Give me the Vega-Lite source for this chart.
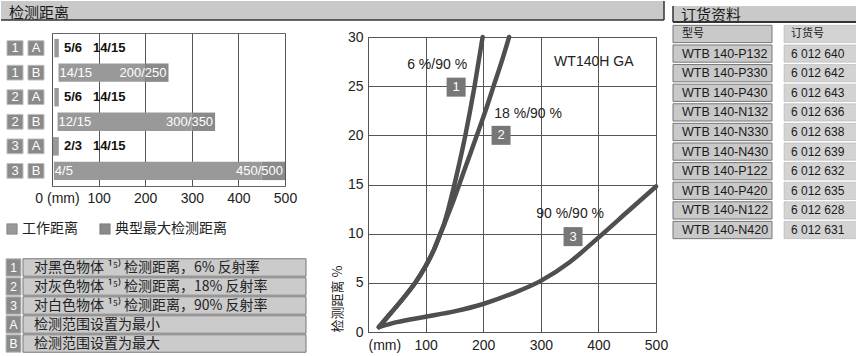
{
  "$schema": "https://vega.github.io/schema/vega-lite/v6.json",
  "padding": 0,
  "background": "white",
  "bounds": "flush",
  "spacing": 672,
  "config": {
    "view": {"stroke": null},
    "font": "Liberation Sans",
    "text": {"font": "Liberation Sans"},
    "axis": {"labelFont": "Liberation Sans", "titleFont": "Noto Sans CJK SC"}
  },
  "datasets": {
    "bars": [
      {"row": "1A", "kind": "工作距离", "lo": 5, "hi": 14},
      {"row": "1A", "kind": "典型最大检测距离", "lo": 14, "hi": 15},
      {"row": "1B", "kind": "工作距离", "lo": 14, "hi": 200},
      {"row": "1B", "kind": "典型最大检测距离", "lo": 200, "hi": 250},
      {"row": "2A", "kind": "工作距离", "lo": 5, "hi": 14},
      {"row": "2A", "kind": "典型最大检测距离", "lo": 14, "hi": 15},
      {"row": "2B", "kind": "工作距离", "lo": 12, "hi": 300},
      {"row": "2B", "kind": "典型最大检测距离", "lo": 300, "hi": 350},
      {"row": "3A", "kind": "工作距离", "lo": 2, "hi": 14},
      {"row": "3A", "kind": "典型最大检测距离", "lo": 14, "hi": 15},
      {"row": "3B", "kind": "工作距离", "lo": 4, "hi": 450},
      {"row": "3B", "kind": "典型最大检测距离", "lo": 450, "hi": 500}
    ],
    "barlabels": [
      {"row": "1A", "x": 15, "t": "5/6\u00a0\u00a0\u00a014/15", "k": "out"},
      {"row": "1B", "x": 14, "t": "14/15", "k": "start"},
      {"row": "1B", "x": 250, "t": "200/250", "k": "end"},
      {"row": "2A", "x": 15, "t": "5/6\u00a0\u00a0\u00a014/15", "k": "out"},
      {"row": "2B", "x": 12, "t": "12/15", "k": "start"},
      {"row": "2B", "x": 350, "t": "300/350", "k": "end"},
      {"row": "3A", "x": 15, "t": "2/3\u00a0\u00a0\u00a014/15", "k": "out"},
      {"row": "3B", "x": 4, "t": "4/5", "k": "start"},
      {"row": "3B", "x": 500, "t": "450/500", "k": "end"}
    ],
    "boxes": [
      {"row": "1A", "col": "n", "t": "1"}, {"row": "1A", "col": "l", "t": "A"},
      {"row": "1B", "col": "n", "t": "1"}, {"row": "1B", "col": "l", "t": "B"},
      {"row": "2A", "col": "n", "t": "2"}, {"row": "2A", "col": "l", "t": "A"},
      {"row": "2B", "col": "n", "t": "2"}, {"row": "2B", "col": "l", "t": "B"},
      {"row": "3A", "col": "n", "t": "3"}, {"row": "3A", "col": "l", "t": "A"},
      {"row": "3B", "col": "n", "t": "3"}, {"row": "3B", "col": "l", "t": "B"}
    ],
    "key": [
      {"k": "1", "t": "对黑色物体 ¹⁵⁾ 检测距离，6% 反射率"},
      {"k": "2", "t": "对灰色物体 ¹⁵⁾ 检测距离，18% 反射率"},
      {"k": "3", "t": "对白色物体 ¹⁵⁾ 检测距离，90% 反射率"},
      {"k": "A", "t": "检测范围设置为最小"},
      {"k": "B", "t": "检测范围设置为最大"}
    ],
    "curves": [
      {"c": "1", "mm": 19, "pct": 0.5}, {"c": "1", "mm": 40, "pct": 1.95}, {"c": "1", "mm": 60, "pct": 3.35},
      {"c": "1", "mm": 82, "pct": 5.0}, {"c": "1", "mm": 100, "pct": 6.7}, {"c": "1", "mm": 114, "pct": 8.3},
      {"c": "1", "mm": 125, "pct": 9.9}, {"c": "1", "mm": 132, "pct": 11.0}, {"c": "1", "mm": 139, "pct": 12.4},
      {"c": "1", "mm": 148, "pct": 14.5}, {"c": "1", "mm": 158, "pct": 17.0}, {"c": "1", "mm": 169, "pct": 20},
      {"c": "1", "mm": 185, "pct": 25}, {"c": "1", "mm": 199, "pct": 30},
      {"c": "2", "mm": 19, "pct": 0.5}, {"c": "2", "mm": 40, "pct": 1.95}, {"c": "2", "mm": 60, "pct": 3.35},
      {"c": "2", "mm": 82, "pct": 5.0}, {"c": "2", "mm": 100, "pct": 6.7}, {"c": "2", "mm": 114, "pct": 8.3},
      {"c": "2", "mm": 125, "pct": 9.9}, {"c": "2", "mm": 132, "pct": 10.9}, {"c": "2", "mm": 140, "pct": 12.1},
      {"c": "2", "mm": 148, "pct": 13.3}, {"c": "2", "mm": 156, "pct": 14.6}, {"c": "2", "mm": 170, "pct": 16.9},
      {"c": "2", "mm": 189, "pct": 20}, {"c": "2", "mm": 204, "pct": 22.5}, {"c": "2", "mm": 218, "pct": 25},
      {"c": "2", "mm": 232, "pct": 27.5}, {"c": "2", "mm": 245, "pct": 30},
      {"c": "3", "mm": 19, "pct": 0.5}, {"c": "3", "mm": 50, "pct": 1.0}, {"c": "3", "mm": 100, "pct": 1.55},
      {"c": "3", "mm": 150, "pct": 2.1}, {"c": "3", "mm": 200, "pct": 2.85}, {"c": "3", "mm": 250, "pct": 3.9},
      {"c": "3", "mm": 300, "pct": 5.2}, {"c": "3", "mm": 350, "pct": 7.1}, {"c": "3", "mm": 400, "pct": 9.6},
      {"c": "3", "mm": 450, "pct": 12.2}, {"c": "3", "mm": 500, "pct": 14.8}
    ],
    "annot": [
      {"x": 120, "y": 27.2, "t": "6 %/90 %"},
      {"x": 278, "y": 22.2, "t": "18 %/90 %"},
      {"x": 351, "y": 12.0, "t": "90 %/90 %"},
      {"x": 392, "y": 27.5, "t": "WT140H GA"}
    ],
    "numbox": [
      {"x": 153, "y": 24.9, "t": "1"},
      {"x": 231, "y": 20.0, "t": "2"},
      {"x": 356, "y": 9.7, "t": "3"}
    ],
    "table": [
      {"r": 0, "model": "型号", "order": "订货号"},
      {"r": 1, "model": "WTB 140-P132", "order": "6 012 640"},
      {"r": 2, "model": "WTB 140-P330", "order": "6 012 642"},
      {"r": 3, "model": "WTB 140-P430", "order": "6 012 643"},
      {"r": 4, "model": "WTB 140-N132", "order": "6 012 636"},
      {"r": 5, "model": "WTB 140-N330", "order": "6 012 638"},
      {"r": 6, "model": "WTB 140-N430", "order": "6 012 639"},
      {"r": 7, "model": "WTB 140-P122", "order": "6 012 632"},
      {"r": 8, "model": "WTB 140-P420", "order": "6 012 635"},
      {"r": 9, "model": "WTB 140-N122", "order": "6 012 628"},
      {"r": 10, "model": "WTB 140-N420", "order": "6 012 631"}
    ]
  },
  "hconcat": [
    {
      "bounds": "flush",
      "spacing": 13,
      "vconcat": [
        {
          "width": 663, "height": 19,
          "view": {"fill": "#c9c9c9", "stroke": null},
          "data": {"values": [{"t": "检测距离"}]},
          "layer": [
            {"mark": {"type": "text", "align": "left", "baseline": "middle", "dx": 8, "dy": 2, "fontSize": 15, "font": "Noto Sans CJK SC", "color": "#1a1a1a"},
             "encoding": {
               "text": {"field": "t"},
               "x": {"datum": 0, "type": "quantitative", "scale": {"domain": [0, 1]}, "axis": null},
               "y": {"datum": 0.5, "type": "quantitative", "scale": {"domain": [0, 1]}, "axis": null}
             }},
            {"mark": {"type": "rule", "color": "#333", "strokeWidth": 1.5},
             "encoding": {"y": {"datum": 0, "type": "quantitative", "scale": {"domain": [0, 1]}, "axis": null}}},
            {"mark": {"type": "rule", "color": "#333", "strokeWidth": 1.5},
             "encoding": {"x": {"datum": 1, "type": "quantitative", "scale": {"domain": [0, 1]}, "axis": null}}}
          ]
        },
        {
          "bounds": "flush",
          "spacing": 367,
          "hconcat": [
            {
              "bounds": "flush",
              "spacing": 225,
              "vconcat": [
                {
                  "bounds": "flush",
                  "spacing": 2,
                  "hconcat": [
                    {
                      "width": 49, "height": 153,
                      "data": {"name": "boxes"},
                      "encoding": {
                        "x": {"field": "col", "type": "nominal", "scale": {"domain": ["n", "l"], "paddingInner": 0.238, "paddingOuter": 0.286}, "axis": null},
                        "y": {"field": "row", "type": "nominal", "scale": {"domain": ["1A", "1B", "2A", "2B", "3A", "3B"], "paddingInner": 0.4, "paddingOuter": 0.315}, "axis": null}
                      },
                      "layer": [
                        {"mark": {"type": "rect", "fill": "#8a8a8a", "stroke": "#bdbdbd", "strokeWidth": 1}},
                        {"mark": {"type": "text", "color": "white", "fontSize": 13}, "encoding": {"text": {"field": "t"}}}
                      ]
                    },
                    {
                      "width": 233, "height": 153,
                      "view": {"stroke": "#666", "strokeWidth": 1},
                      "encoding": {
                        "y": {"field": "row", "type": "nominal", "scale": {"domain": ["1A", "1B", "2A", "2B", "3A", "3B"], "paddingInner": 0.25, "paddingOuter": 0.24}, "axis": null}
                      },
                      "layer": [
                        {
                          "data": {"name": "bars"},
                          "mark": {"type": "rect"},
                          "encoding": {
                            "x": {"field": "lo", "type": "quantitative", "scale": {"domain": [0, 500], "nice": false},
                                  "axis": {"values": [0, 100, 200, 300, 400, 500], "grid": true, "gridColor": "#555", "gridWidth": 1, "ticks": false, "domain": false,
                                           "labelExpr": "datum.value == 0 ? '0 (mm)' : datum.label",
                                           "labelOffset": {"condition": {"test": "datum.value == 0", "value": 5}, "value": 0},
                                           "labelFontSize": 14, "labelColor": "#222", "labelPadding": 5, "labelFlush": false, "title": null}},
                            "x2": {"field": "hi"},
                            "color": {"field": "kind", "type": "nominal",
                                      "scale": {"domain": ["工作距离", "典型最大检测距离"], "range": ["#999999", "#8a8a8a"]},
                                      "legend": {"orient": "none", "legendX": 4, "legendY": 221, "direction": "horizontal", "title": null,
                                                 "symbolType": "square", "symbolSize": 110, "symbolStrokeColor": "#666", "symbolStrokeWidth": 0.5,
                                                 "labelFont": "Noto Sans CJK SC", "labelFontSize": 14, "labelColor": "#222", "labelOffset": 3,
                                                 "columnPadding": 20, "padding": 0}}
                          }
                        },
                        {
                          "data": {"name": "barlabels"},
                          "transform": [{"filter": "datum.k == 'out'"}],
                          "mark": {"type": "text", "align": "left", "dx": 5, "fontSize": 13, "fontWeight": "bold", "color": "#111"},
                          "encoding": {"x": {"field": "x", "type": "quantitative"}, "text": {"field": "t"}}
                        },
                        {
                          "data": {"name": "barlabels"},
                          "transform": [{"filter": "datum.k == 'start'"}],
                          "mark": {"type": "text", "align": "left", "dx": 1, "fontSize": 13, "color": "white"},
                          "encoding": {"x": {"field": "x", "type": "quantitative"}, "text": {"field": "t"}}
                        },
                        {
                          "data": {"name": "barlabels"},
                          "transform": [{"filter": "datum.k == 'end'"}],
                          "mark": {"type": "text", "align": "right", "dx": -2, "fontSize": 13, "color": "white"},
                          "encoding": {"x": {"field": "x", "type": "quantitative"}, "text": {"field": "t"}}
                        }
                      ]
                    }
                  ]
                },
                {
                  "bounds": "flush",
                  "spacing": 2,
                  "hconcat": [
                    {
                      "width": 20, "height": 95,
                      "data": {"name": "key"},
                      "encoding": {
                        "y": {"field": "k", "type": "nominal", "sort": null, "scale": {"paddingInner": 0.08, "paddingOuter": 0.04}, "axis": null},
                        "x": {"datum": "k", "type": "nominal", "scale": {"domain": ["k"], "paddingInner": 0, "paddingOuter": 0.1667, "align": 1}, "axis": null}
                      },
                      "layer": [
                        {"mark": {"type": "rect", "fill": "#8a8a8a", "stroke": "#bdbdbd", "strokeWidth": 1}},
                        {"mark": {"type": "text", "color": "white", "fontSize": 12}, "encoding": {"text": {"field": "k"}}}
                      ]
                    },
                    {
                      "width": 283, "height": 95,
                      "data": {"name": "key"},
                      "encoding": {
                        "y": {"field": "k", "type": "nominal", "sort": null, "scale": {"paddingInner": 0.08, "paddingOuter": 0.04}, "axis": null}
                      },
                      "layer": [
                        {"mark": {"type": "rect", "fill": "#cbcbcb", "stroke": "#777", "strokeWidth": 1},
                         "encoding": {
                           "x": {"datum": 0, "type": "quantitative", "scale": {"domain": [0, 1]}, "axis": null},
                           "x2": {"datum": 1}
                         }},
                        {"mark": {"type": "text", "align": "left", "dx": 11, "fontSize": 14, "font": "Noto Sans CJK SC", "color": "#222"},
                         "encoding": {
                           "x": {"datum": 0, "type": "quantitative", "scale": {"domain": [0, 1]}, "axis": null},
                           "text": {"field": "t"}
                         }}
                      ]
                    }
                  ]
                }
              ]
            },
            {
              "bounds": "flush",
              "spacing": 3,
              "vconcat": [
                {"width": 288, "height": 1, "data": {"values": [{}]}, "mark": {"type": "point", "opacity": 0}, "encoding": {}},
                {
                  "width": 288, "height": 295,
                  "view": {"stroke": "#555", "strokeWidth": 1},
                  "layer": [
                    {
                      "data": {"name": "curves"},
                      "mark": {"type": "line", "strokeWidth": 4.5, "color": "#4f4f4f", "interpolate": "monotone", "strokeCap": "round"},
                      "encoding": {
                        "x": {"field": "mm", "type": "quantitative", "scale": {"domain": [0, 500], "nice": false},
                              "axis": {"values": [0, 50, 100, 150, 200, 250, 300, 350, 400, 450, 500], "grid": true, "gridColor": "#555", "gridWidth": 1,
                                       "ticks": false, "domain": false,
                                       "labelExpr": "datum.value == 0 ? '(mm)' : (datum.value % 100 == 0 ? datum.label : '')",
                                       "labelAlign": {"condition": {"test": "datum.value == 0", "value": "left"}, "value": "center"},
                                       "labelFontSize": 14, "labelColor": "#222", "labelPadding": 6, "labelFlush": false, "labelOverlap": false, "title": null}},
                        "y": {"field": "pct", "type": "quantitative", "scale": {"domain": [0, 30], "nice": false},
                              "axis": {"values": [0, 5, 10, 15, 20, 25, 30], "grid": true, "gridColor": "#555", "gridWidth": 1,
                                       "ticks": false, "domain": false, "labelFontSize": 14, "labelColor": "#222", "labelPadding": 5, "labelFlush": false,
                                       "title": "检测距离 %", "titleFontSize": 13, "titleFontWeight": "normal", "titleColor": "#222",
                                       "titleAnchor": "start", "titlePadding": 3}},
                        "detail": {"field": "c"}
                      }
                    },
                    {
                      "data": {"name": "annot"},
                      "mark": {"type": "text", "fontSize": 14, "color": "#222"},
                      "encoding": {"x": {"field": "x", "type": "quantitative"}, "y": {"field": "y", "type": "quantitative"}, "text": {"field": "t"}}
                    },
                    {
                      "data": {"name": "numbox"},
                      "mark": {"type": "point", "shape": "square", "size": 361, "filled": true, "color": "#777777", "opacity": 1},
                      "encoding": {"x": {"field": "x", "type": "quantitative"}, "y": {"field": "y", "type": "quantitative"}}
                    },
                    {
                      "data": {"name": "numbox"},
                      "mark": {"type": "text", "fontSize": 13, "color": "white"},
                      "encoding": {"x": {"field": "x", "type": "quantitative"}, "y": {"field": "y", "type": "quantitative"}, "text": {"field": "t"}}
                    }
                  ]
                }
              ]
            }
          ]
        }
      ]
    },
    {
      "bounds": "flush",
      "spacing": 1,
      "vconcat": [
        {"width": 1, "height": 4, "data": {"values": [{}]}, "mark": {"type": "point", "opacity": 0}, "encoding": {}},
        {
          "width": 184, "height": 16,
          "view": {"fill": "#c9c9c9", "stroke": null},
          "data": {"values": [{"t": "订货资料"}]},
          "layer": [
            {"mark": {"type": "text", "align": "left", "baseline": "middle", "dx": 8, "dy": 1, "fontSize": 15, "font": "Noto Sans CJK SC", "color": "#1a1a1a"},
             "encoding": {
               "text": {"field": "t"},
               "x": {"datum": 0, "type": "quantitative", "scale": {"domain": [0, 1]}, "axis": null},
               "y": {"datum": 0.5, "type": "quantitative", "scale": {"domain": [0, 1]}, "axis": null}
             }},
            {"mark": {"type": "rule", "color": "#333", "strokeWidth": 2},
             "encoding": {"y": {"datum": 0, "type": "quantitative", "scale": {"domain": [0, 1]}, "axis": null}}},
            {"mark": {"type": "rule", "color": "#333", "strokeWidth": 1.5},
             "encoding": {"x": {"datum": 0, "type": "quantitative", "scale": {"domain": [0, 1]}, "axis": null}}}
          ]
        },
        {
          "bounds": "flush",
          "spacing": 12,
          "hconcat": [
            {
              "width": 99, "height": 218,
              "data": {"name": "table"},
              "encoding": {
                "y": {"field": "r", "type": "ordinal", "scale": {"paddingInner": 0.12, "paddingOuter": 0.12}, "axis": null}
              },
              "layer": [
                {"mark": {"type": "rect", "fill": "#c9c9c9", "stroke": "#777", "strokeWidth": 1},
                 "encoding": {
                   "x": {"datum": 0, "type": "quantitative", "scale": {"domain": [0, 1]}, "axis": null},
                   "x2": {"datum": 1}
                 }},
                {"mark": {"type": "text", "align": "left", "dx": 9, "font": "Liberation Sans, Noto Sans CJK SC", "color": "#1a1a1a"},
                 "encoding": {
                   "x": {"datum": 0, "type": "quantitative", "scale": {"domain": [0, 1]}, "axis": null},
                   "text": {"field": "model"},
                   "size": {"condition": {"test": "datum.r == 0", "value": 11}, "value": 12.5}
                 }}
              ]
            },
            {
              "width": 73, "height": 218,
              "data": {"name": "table"},
              "encoding": {
                "y": {"field": "r", "type": "ordinal", "scale": {"paddingInner": 0.12, "paddingOuter": 0.12}, "axis": null}
              },
              "layer": [
                {"mark": {"type": "rect", "fill": "#d3d3d3", "stroke": "#aaa", "strokeWidth": 0.5},
                 "encoding": {
                   "x": {"datum": 0, "type": "quantitative", "scale": {"domain": [0, 1]}, "axis": null},
                   "x2": {"datum": 1}
                 }},
                {"mark": {"type": "text", "align": "left", "dx": 7, "font": "Liberation Sans, Noto Sans CJK SC", "color": "#1a1a1a"},
                 "encoding": {
                   "x": {"datum": 0, "type": "quantitative", "scale": {"domain": [0, 1]}, "axis": null},
                   "text": {"field": "order"},
                   "size": {"condition": {"test": "datum.r == 0", "value": 11}, "value": 12}
                 }}
              ]
            }
          ]
        }
      ]
    }
  ]
}
